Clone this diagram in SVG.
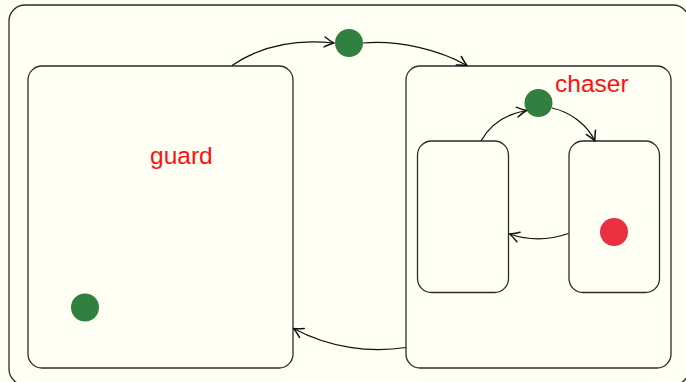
<svg xmlns="http://www.w3.org/2000/svg" width="686" height="382" viewBox="0 0 686 382">
  <defs>
    <marker id="arrow" markerWidth="14" markerHeight="14" refX="0" refY="0" viewBox="-11 -7 14 14" orient="auto" markerUnits="userSpaceOnUse">
      <path d="M -9.5,-5 Q -3.5,-1.3 0,0 Q -3.5,1.3 -9.5,5" fill="none" stroke="#111" stroke-width="1.5" stroke-linecap="round" stroke-linejoin="round"/>
    </marker>
    <style>
      .state { fill: #fffff4; stroke: #2b2b2b; stroke-width: 1.3; }
      .edge { fill: none; stroke: #111; stroke-width: 1.25; marker-end: url(#arrow); }
      .init { fill: #31803f; }
      .final { fill: #e83040; }
      .label { font-family: "Liberation Sans", Arial, sans-serif; font-size: 24.5px; fill: #ff1010; }
    </style>
  </defs>

  <rect x="0" y="0" width="686" height="382" fill="#fffff4"/>

  <g id="root">
    <rect class="state" x="9" y="5" width="680" height="380" rx="16"/>
  </g>

  <g id="guard">
    <rect class="state" x="28" y="66" width="265" height="302" rx="14"/>
    <text class="label" x="150" y="164">guard</text>
    <circle class="init" cx="85" cy="307.5" r="14"/>
  </g>

  <g id="chaser">
    <rect class="state" x="406" y="66" width="265" height="302" rx="14"/>
    <text class="label" x="555" y="92">chaser</text>
  </g>

  <g id="chaser-left">
    <rect class="state" x="417.5" y="141" width="91" height="151.5" rx="14"/>
  </g>

  <g id="chaser-right">
    <rect class="state" x="569" y="141" width="90.5" height="151.5" rx="14"/>
    <circle class="final" cx="614" cy="232" r="14"/>
  </g>

  <g id="choice-top">
    <circle class="init" cx="349" cy="43" r="14"/>
  </g>

  <g id="choice-chaser">
    <circle class="init" cx="538.5" cy="103" r="14"/>
  </g>

  <g id="connectors">
    <path class="edge" d="M 232,65.5 C 262,45 298,39 334,43"/>
    <path class="edge" d="M 363,43 C 400,40 440,50 467,65.5"/>
    <path class="edge" d="M 481,141 C 491,123 506,114 526.5,110.5"/>
    <path class="edge" d="M 552,108 C 570,112 587,124 595,141"/>
    <path class="edge" d="M 568.5,233.5 C 550,240 530,241 509.5,234"/>
    <path class="edge" d="M 406,347.5 C 370,353 330,348 293.5,328.5"/>
  </g>
</svg>
